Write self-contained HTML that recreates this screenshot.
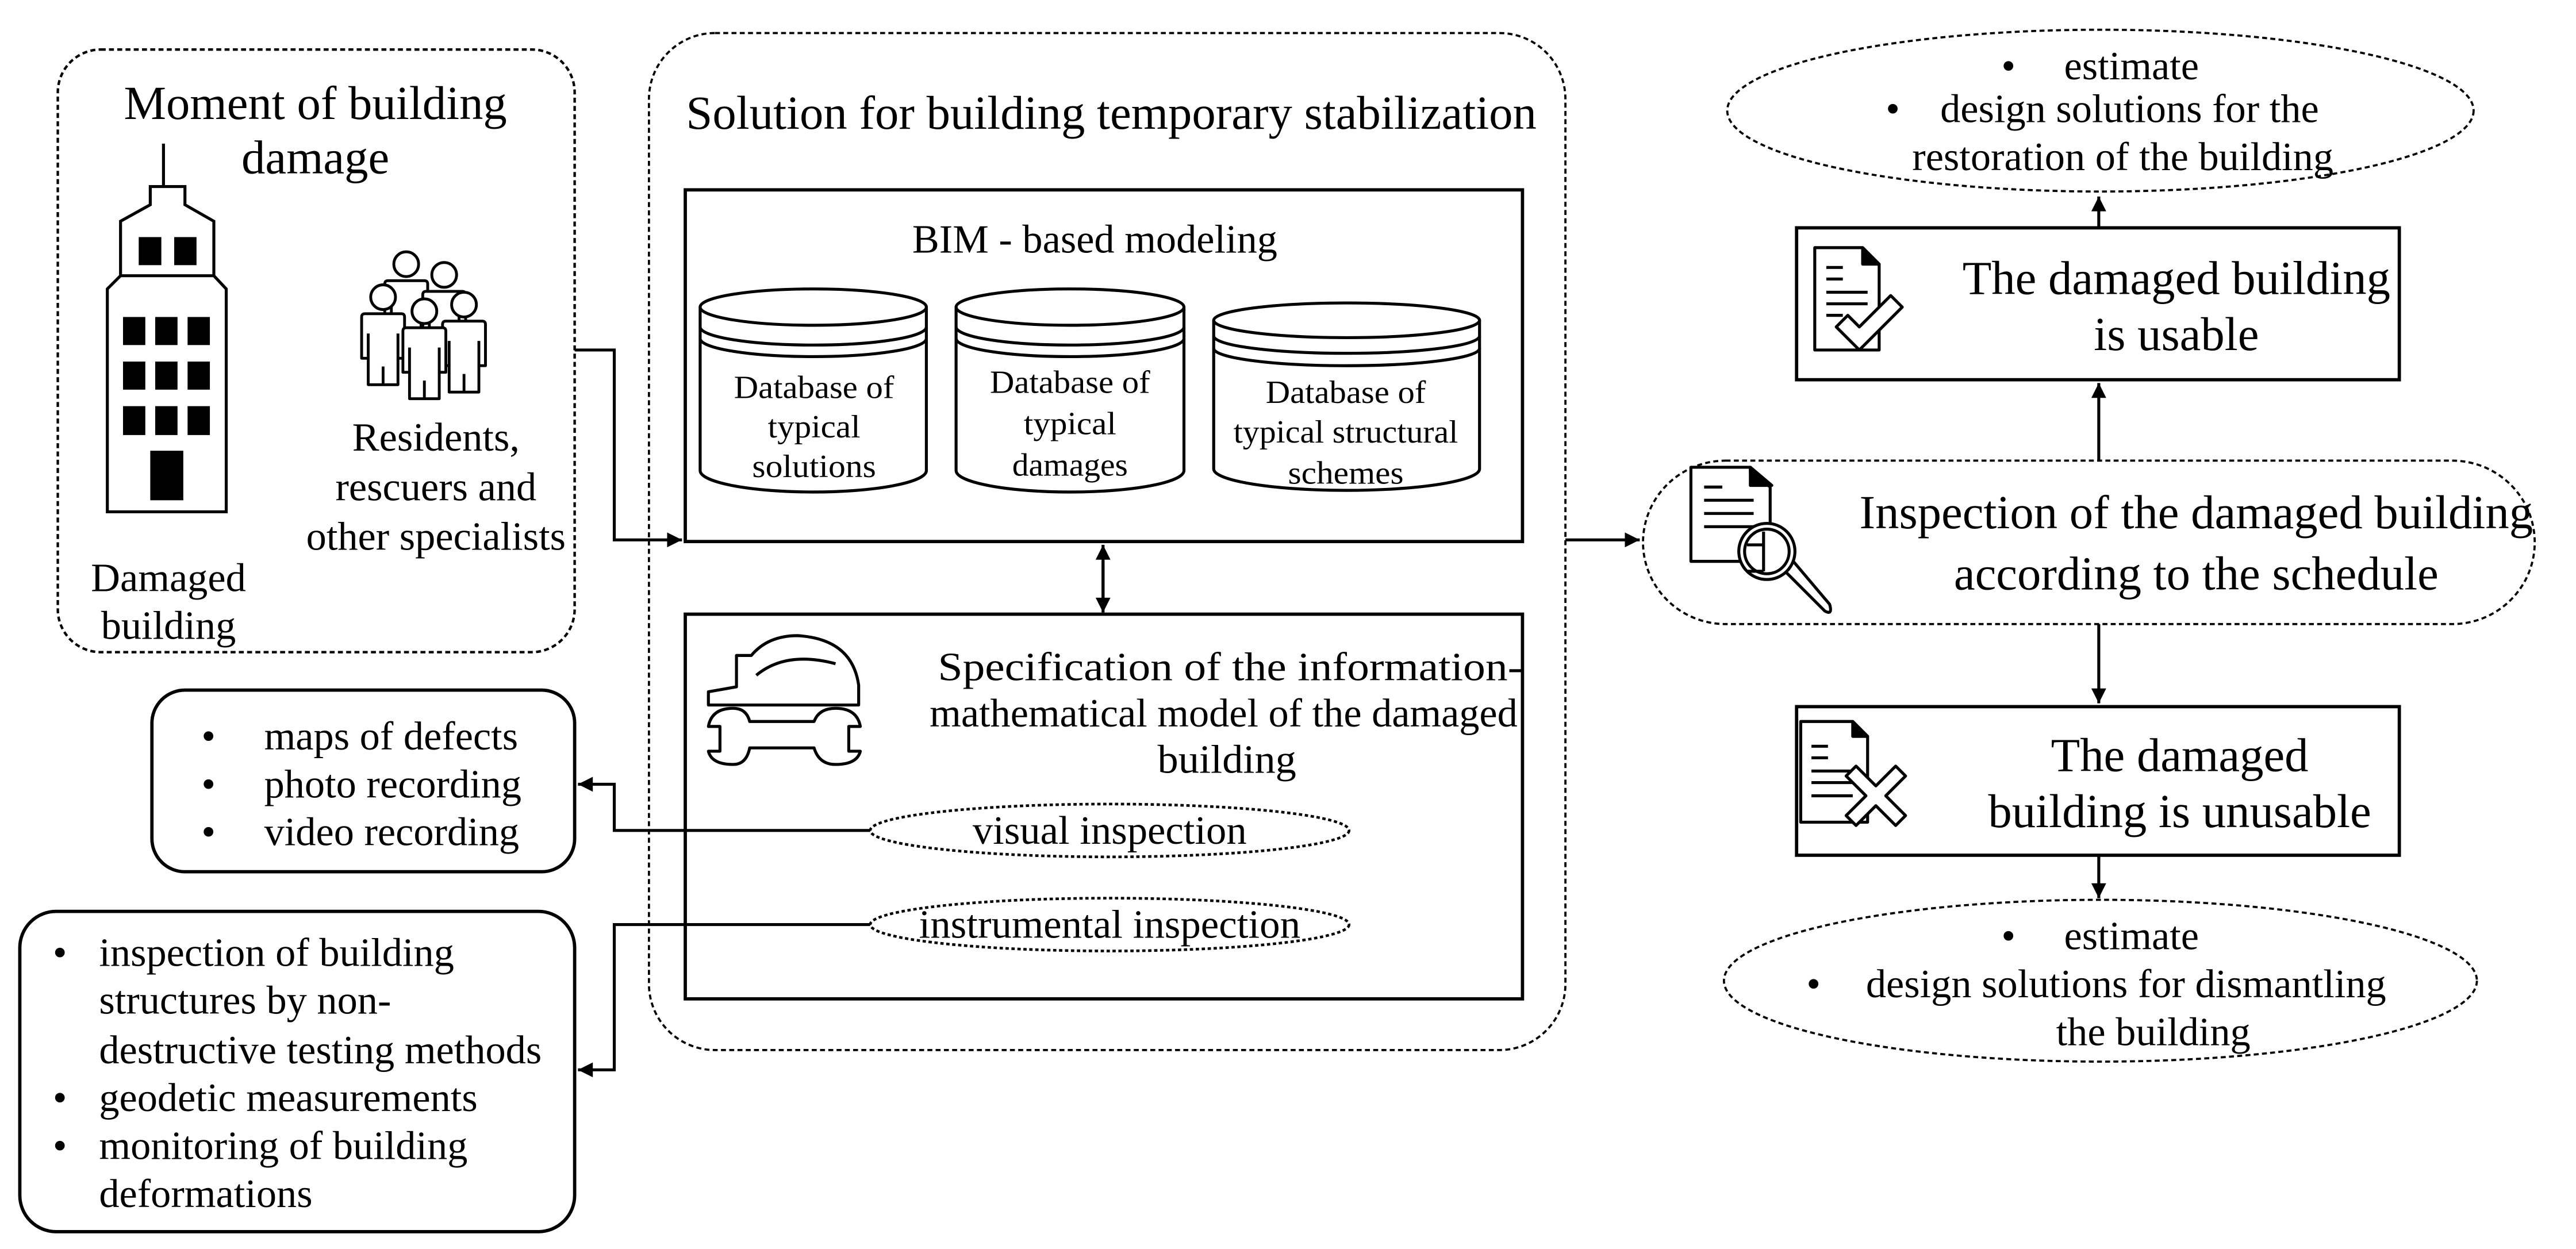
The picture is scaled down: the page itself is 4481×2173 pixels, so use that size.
<!DOCTYPE html>
<html><head><meta charset="utf-8"><style>
html,body{margin:0;padding:0;background:#fff;}
svg{display:block;}
text{font-family:"Liberation Serif","Times New Roman",serif;fill:#000;}
</style></head><body>
<svg width="4481" height="2173" viewBox="0 0 1560 756.5" xmlns="http://www.w3.org/2000/svg">
<defs>
<marker id="ah" viewBox="0 0 10 10" refX="10" refY="5" markerWidth="11" markerHeight="9" markerUnits="userSpaceOnUse" orient="auto"><path d="M0,0 L10,5 L0,10 Z" fill="#000"/></marker>
<g id="person" fill="#fff" stroke="#000" stroke-width="1.7" stroke-linejoin="round">
<path d="M-13,12 Q-13,10 -11,10 H11 Q13,10 13,12 V37 H9 V53 H-9 V37 H-13 Z"/>
<path d="M-9,22 V37 M9,22 V37 M0,42 V53" fill="none"/>
<circle cx="0" cy="0" r="7.5"/>
</g>
</defs>
<g fill="none" stroke="#000">
<rect x="35" y="30" width="313" height="365" rx="26" stroke-width="1.5" stroke-dasharray="3,2"/>
<rect x="393" y="20" width="555" height="616" rx="40" stroke-width="1.3" stroke-dasharray="3,2"/>
<rect x="415" y="115" width="507" height="213" stroke-width="2"/>
<rect x="415" y="372" width="507" height="233" stroke-width="2"/>
<rect x="92" y="418" width="256" height="110" rx="20" stroke-width="2"/>
<rect x="12" y="552" width="336" height="194" rx="22" stroke-width="2"/>
<ellipse cx="672" cy="503" rx="145" ry="16" stroke-width="1.6" stroke-dasharray="2,1.6"/>
<ellipse cx="672" cy="560" rx="145" ry="16" stroke-width="1.6" stroke-dasharray="2,1.6"/>
<rect x="995" y="279" width="540" height="99" rx="50" stroke-width="1.3" stroke-dasharray="3,2"/>
<rect x="1088" y="138" width="365" height="92" stroke-width="2"/>
<rect x="1088" y="428" width="365" height="90" stroke-width="2"/>
<ellipse cx="1272" cy="67" rx="226" ry="49" stroke-width="1.3" stroke-dasharray="3,2"/>
<ellipse cx="1272" cy="594" rx="228" ry="49" stroke-width="1.3" stroke-dasharray="3,2"/>
<g stroke-width="1.8">
<path d="M348,212 H372 V327 H413" marker-end="url(#ah)"/>
<path d="M668,340 V371" marker-end="url(#ah)"/>
<path d="M668,362 V330" marker-end="url(#ah)"/>
<path d="M527,503 H372 V475 H350" marker-end="url(#ah)"/>
<path d="M527,560 H372 V648 H350" marker-end="url(#ah)"/>
<path d="M948,327 H993" marker-end="url(#ah)"/>
<path d="M1271,279 V232" marker-end="url(#ah)"/>
<path d="M1271,138 V119" marker-end="url(#ah)"/>
<path d="M1271,378 V426" marker-end="url(#ah)"/>
<path d="M1271,518 V544" marker-end="url(#ah)"/>
</g>
<g stroke-width="1.8">
<path d="M99,87 V113"/>
<path d="M91,124 V113 H112 V124 L129.5,134 V167 H73 V134 Z"/>
<path d="M73,167 L65,175 V310 H137 V175 L129.5,167"/>
</g>
</g>
<g fill="#000">
<rect x="84" y="143.6" width="13.7" height="17"/><rect x="105.5" y="143.6" width="13.5" height="17"/>
<rect x="74.5" y="192" width="13.5" height="17"/><rect x="94" y="192" width="13.5" height="17"/><rect x="113.6" y="192" width="13.5" height="17"/>
<rect x="74.5" y="219" width="13.5" height="17"/><rect x="94" y="219" width="13.5" height="17"/><rect x="113.6" y="219" width="13.5" height="17"/>
<rect x="74.5" y="246" width="13.5" height="17.5"/><rect x="94" y="246" width="13.5" height="17.5"/><rect x="113.6" y="246" width="13.5" height="17.5"/>
<rect x="91" y="273" width="20" height="30"/>
</g>
<use href="#person" x="246" y="160"/>
<use href="#person" x="269" y="166.5"/>
<use href="#person" x="232" y="180"/>
<use href="#person" x="281" y="184.5"/>
<use href="#person" x="257" y="188.5"/>
<!-- cylinders -->
<g fill="none" stroke="#000" stroke-width="1.8">
<path d="M424,186 V285 A68.5,13 0 0 0 561,285 V186"/><ellipse cx="492.5" cy="186" rx="68.5" ry="11"/>
<path d="M424,198 A68.5,11 0 0 0 561,198 M424,205 A68.5,11 0 0 0 561,205"/>
<path d="M579,186 V285 A69,13 0 0 0 717,285 V186"/><ellipse cx="648" cy="186" rx="69" ry="11"/>
<path d="M579,198 A69,11 0 0 0 717,198 M579,205 A69,11 0 0 0 717,205"/>
<path d="M735,194 V284 A80.5,13 0 0 0 896,284 V194"/><ellipse cx="815.5" cy="194" rx="80.5" ry="10.5"/>
<path d="M735,203.5 A80.5,10.5 0 0 0 896,203.5 M735,211 A80.5,10.5 0 0 0 896,211"/>
</g>
<!-- helmet + wrench -->
<g fill="none" stroke="#000" stroke-width="1.8" stroke-linejoin="round">
<path d="M429,427 V419 L446,416 V397 H455 Q465,385 483,385 Q516,387 520,415 V427 Z"/>
<path d="M458,409 Q476,394 506,402"/>
<path d="M429,440 Q431,429 444,429 Q452,429 454,437 H493 Q496,429 506,429 Q519,429 521,440 H514 V455 H521 Q519,463 506,463 Q496,463 493,453 H454 Q452,463 444,463 Q431,463 429,455 H436 V440 Z"/>
</g>
<!-- doc icons -->
<g fill="none" stroke="#000" stroke-width="1.8" stroke-linejoin="round">
<path d="M1099,150 V212 H1138 V160 L1128,150 Z"/><path d="M1128,150 L1138,160 H1128 Z" fill="#000"/>
<path d="M1106,162 H1116 M1106,169 H1116 M1106,177 H1131 M1106,184 H1131 M1106,191 H1116"/>
<path d="M1112,198 L1119,191 L1126,198 L1145,179 L1152,186 L1126,212 Z" fill="#fff"/>
<path d="M1090.5,437 V498 H1131 V446 L1122,437 Z"/>
<path d="M1122,437 L1131,446 H1122 Z" fill="#000"/>
<path d="M1097,452 H1107 M1097,459 H1107 M1097,467 H1122 M1097,474 H1122 M1097,482 H1122"/>
<path d="M1118,470 L1124,464 L1136,476 L1148,464 L1154,470 L1142,482 L1154,494 L1148,500 L1136,488 L1124,500 L1118,494 L1130,482 Z" fill="#fff"/>
<path d="M1024,283 V340 H1072 V295 L1060,285 V283 Z"/><path d="M1060,283 L1073,294 H1060 Z" fill="#000"/>
<path d="M1032,295 H1043 M1032,303 H1062 M1032,311 H1062 M1032,319 H1062"/>
<path d="M1080,345 L1105,370 Q1110,373 1108,366 L1086,340" fill="#fff"/>
<circle cx="1070" cy="334" r="17" fill="#fff"/><circle cx="1070" cy="334" r="13.5"/>
<path d="M1058,330 H1068 M1068,322 V346 M1058,346 H1068"/>
</g>
<!-- texts -->
<g font-size="28.8" text-anchor="middle">
<text x="191" y="72">Moment of building</text>
<text x="191" y="105">damage</text>
<text x="673" y="78">Solution for building temporary stabilization</text>
<text x="1330" y="320">Inspection of the damaged building</text>
<text x="1330" y="357">according to the schedule</text>
<text x="1318" y="178">The damaged building</text>
<text x="1318" y="212">is usable</text>
<text x="1320" y="467">The damaged</text>
<text x="1320" y="501">building is unusable</text>
</g>
<g font-size="24.5" text-anchor="middle">
<text x="102" y="358">Damaged</text>
<text x="102" y="387">building</text>
<text x="264" y="273">Residents,</text>
<text x="264" y="303">rescuers and</text>
<text x="264" y="333">other specialists</text>
<text x="663" y="153">BIM - based modeling</text>
<text x="745" y="412" textLength="354" lengthAdjust="spacingAndGlyphs">Specification of the information-</text>
<text x="741" y="440" textLength="356" lengthAdjust="spacingAndGlyphs">mathematical model of the damaged</text>
<text x="743" y="468" textLength="84" lengthAdjust="spacingAndGlyphs">building</text>
<text x="672" y="511" textLength="166" lengthAdjust="spacingAndGlyphs">visual inspection</text>
<text x="672" y="568" textLength="231" lengthAdjust="spacingAndGlyphs">instrumental inspection</text>
</g>
<g font-size="19.5" text-anchor="middle">
<text x="493" y="241" textLength="97" lengthAdjust="spacingAndGlyphs">Database of</text>
<text x="493" y="265" textLength="56" lengthAdjust="spacingAndGlyphs">typical</text>
<text x="493" y="289" textLength="75" lengthAdjust="spacingAndGlyphs">solutions</text>
<text x="648" y="238" textLength="97" lengthAdjust="spacingAndGlyphs">Database of</text>
<text x="648" y="263" textLength="56" lengthAdjust="spacingAndGlyphs">typical</text>
<text x="648" y="288" textLength="70" lengthAdjust="spacingAndGlyphs">damages</text>
<text x="815" y="244" textLength="97" lengthAdjust="spacingAndGlyphs">Database of</text>
<text x="815" y="268" textLength="136" lengthAdjust="spacingAndGlyphs">typical structural</text>
<text x="815" y="293" textLength="70" lengthAdjust="spacingAndGlyphs">schemes</text>
</g>
<g font-size="24.5">
<text x="122" y="454">•</text><text x="160" y="454">maps of defects</text>
<text x="122" y="483">•</text><text x="160" y="483">photo recording</text>
<text x="122" y="512">•</text><text x="160" y="512">video recording</text>
<text x="32" y="585">•</text><text x="60" y="585">inspection of building</text>
<text x="60" y="614">structures by non-</text>
<text x="60" y="644">destructive testing methods</text>
<text x="32" y="673">•</text><text x="60" y="673">geodetic measurements</text>
<text x="32" y="702">•</text><text x="60" y="702">monitoring of building</text>
<text x="60" y="731">deformations</text>
<text x="1212" y="48">•</text><text x="1250" y="48">estimate</text>
<text x="1142" y="74">•</text><text x="1175" y="74">design solutions for the</text>
<text x="1158" y="103">restoration of the building</text>
<text x="1212" y="575">•</text><text x="1250" y="575">estimate</text>
<text x="1094" y="604">•</text><text x="1130" y="604">design solutions for dismantling</text>
<text x="1304" y="633" text-anchor="middle">the building</text>
</g>
</svg>
</body></html>
